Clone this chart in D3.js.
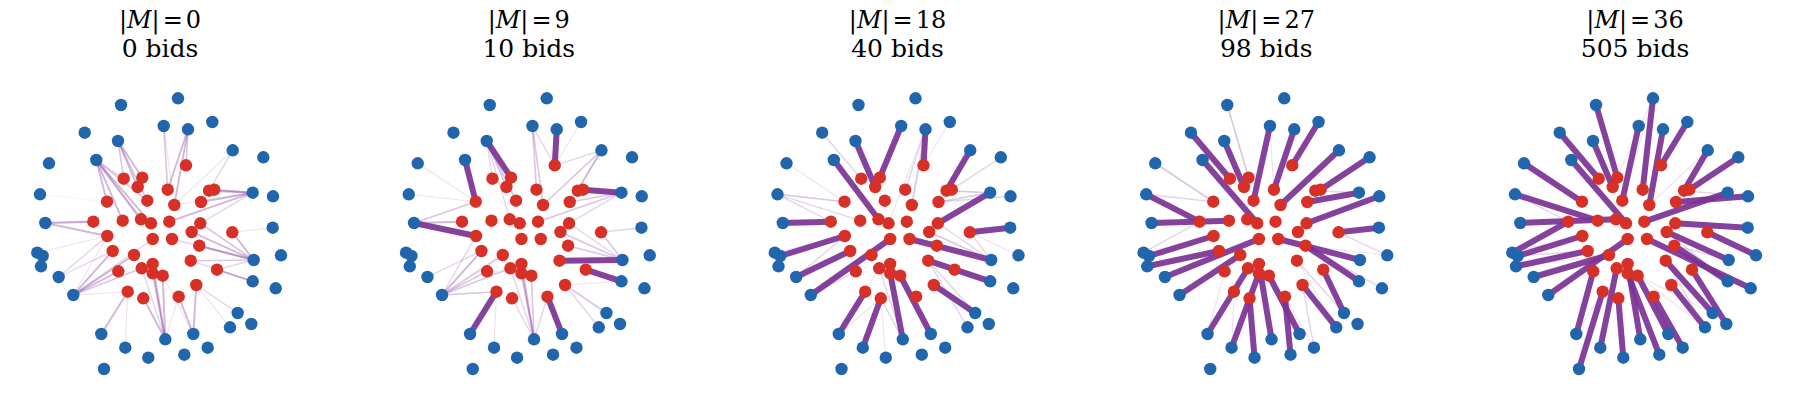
<!DOCTYPE html>
<html>
<head>
<meta charset="utf-8">
<script src="https://cdn.jsdelivr.net/npm/d3@7"></script>
<style>
body { margin: 0; background: #fff; }
</style>
</head>
<body>
<div id="chart"></div>
<script>
// one panel per auction stage
var matchSizes = [0, 9, 18, 27, 36];
var bidCounts = [0, 10, 40, 98, 505];

// layout positions (same in every panel), blue = outer side, red = inner side
var blueX = [121.0, 178.0, 84.7, 163.7, 188.0, 212.3, 118.0, 96.3, 49.0, 232.7, 263.3, 40.0,
    252.7, 273.0, 45.3, 272.7, 37.3, 42.7, 41.0, 253.7, 281.0, 58.7, 252.7, 73.3,
    275.7, 237.7, 230.0, 251.3, 101.3, 165.3, 193.3, 125.3, 148.3, 184.3, 207.7, 104.0];
var blueY = [45.0, 38.3, 72.7, 66.0, 69.3, 62.0, 81.0, 100.0, 103.3, 90.3, 97.3, 134.3,
    132.7, 136.3, 163.0, 167.7, 192.7, 196.0, 206.3, 200.0, 195.3, 217.0, 221.3, 235.0,
    228.3, 253.0, 267.3, 264.0, 274.0, 279.3, 274.0, 287.7, 297.7, 294.7, 287.7, 309.0];
var redX = [186.0, 123.7, 142.3, 137.7, 167.7, 209.0, 214.3, 107.0, 147.3, 174.3, 201.0, 93.3,
    122.7, 141.0, 151.0, 169.3, 200.3, 191.7, 232.3, 107.3, 152.7, 172.0, 199.3, 112.7,
    134.0, 190.7, 217.0, 118.3, 141.7, 152.7, 152.7, 162.7, 196.3, 127.7, 143.3, 178.7];
var redY = [105.3, 118.7, 117.7, 127.0, 129.7, 130.7, 129.7, 141.7, 140.7, 145.0, 142.0, 161.7,
    160.7, 159.3, 163.3, 161.7, 163.3, 172.0, 172.3, 176.0, 179.0, 179.0, 185.7, 191.0,
    195.0, 200.7, 209.7, 211.3, 208.3, 204.0, 213.3, 215.7, 225.0, 231.7, 238.3, 236.7];

// matched pairs [blue, red] (1-based) per panel
var matched = [
    [],
    [[7,3],[5,1],[8,8],[15,20],[13,7],[20,26],[23,27],[29,34],[31,36]],
    [[4,3],[7,4],[5,1],[8,14],[10,6],[13,17],[15,12],[16,19],[18,20],[22,24],[24,21],[20,22],
     [23,26],[26,33],[29,34],[32,35],[30,31],[31,32]],
    [[3,2],[7,4],[4,9],[8,15],[5,5],[6,1],[10,10],[11,7],[13,11],[14,17],[16,19],[12,12],
     [15,13],[18,20],[19,24],[22,21],[24,25],[20,22],[23,23],[26,27],[27,33],[29,29],[32,31],
     [33,35],[30,30],[34,36],[31,32]],
    [[1,3],[2,5],[3,2],[4,9],[5,10],[6,1],[7,4],[8,15],[9,8],[10,6],[11,7],[12,13],[13,16],
     [14,11],[15,14],[16,17],[17,12],[18,20],[19,24],[20,18],[21,19],[22,25],[23,23],[24,21],
     [25,22],[26,26],[27,33],[28,27],[29,28],[30,30],[31,32],[32,29],[33,35],[34,31],[35,36],
     [36,34]]
];

// weaker edges [blue, red, weight] per panel
var weakEdges = [
    [[8,8,.5],[8,13,.5],[8,14,.6],[8,15,.5],[8,9,.4],[8,2,.3],[7,2,.4],[7,3,.5],[7,4,.5],[7,9,.4],
     [4,5,.4],[4,10,.2],[5,5,.5],[5,10,.5],[5,1,.4],[10,6,.3],[10,10,.2],[13,6,.5],[13,7,.5],
     [13,11,.5],[13,16,.5],[13,17,.3],[13,10,.2],[15,12,.6],[15,20,.5],[16,19,.2],[17,20,.2],
     [20,17,.4],[20,18,.5],[20,19,.5],[20,23,.6],[20,26,.4],[20,27,.3],[20,22,.3],[23,27,.5],
     [23,26,.3],[22,24,.3],[22,20,.3],[24,24,.5],[24,25,.5],[24,28,.5],[24,29,.4],[24,21,.3],
     [24,20,.2],[24,34,.2],[29,34,.5],[30,29,.3],[30,30,.5],[30,31,.5],[30,32,.5],[30,35,.5],
     [30,36,.2],[31,33,.5],[31,36,.5],[31,32,.2],[26,33,.3],[27,33,.2],[32,34,.2],[12,8,.1]],
    [[7,4,.4],[7,9,.4],[7,2,.3],[7,14,.3],[4,5,.4],[4,10,.4],[4,1,.3],[6,1,.2],[10,6,.4],
     [10,10,.4],[10,1,.3],[10,11,.3],[13,11,.4],[13,16,.4],[13,17,.3],[13,6,.3],[9,8,.2],
     [12,8,.2],[15,12,.5],[15,8,.4],[20,18,.4],[20,19,.4],[20,23,.4],[20,17,.3],[16,19,.3],
     [24,24,.5],[24,25,.4],[24,28,.4],[24,29,.4],[24,34,.4],[24,20,.3],[22,24,.3],[30,29,.3],
     [30,30,.5],[30,31,.5],[30,32,.4],[30,36,.3],[30,35,.3],[32,34,.2],[26,33,.4],[27,33,.3],
     [23,33,.2]],
    [[3,2,.3],[12,8,.4],[12,12,.3],[12,13,.3],[9,8,.2],[5,5,.3],[5,10,.4],[5,15,.2],[6,1,.2],
     [11,7,.3],[13,6,.4],[13,11,.4],[14,11,.3],[20,17,.3],[20,18,.4],[20,19,.3],[21,19,.2],
     [24,25,.4],[24,28,.3],[22,20,.3],[17,20,.2],[29,35,.2],[29,29,.2],[30,35,.3],[30,29,.3],
     [27,26,.3],[26,26,.3],[33,35,.2]],
    [[1,3,.4],[9,8,.4],[12,8,.3],[17,12,.3],[17,20,.2],[21,19,.3],[21,23,.2],[25,23,.3],
     [13,6,.3],[11,6,.3],[35,33,.3],[35,36,.2],[26,26,.3],[27,26,.2],[29,28,.2],[32,34,.2],
     [4,5,.2]],
    [[2,4,.2],[2,9,.2],[12,12,.3],[13,11,.3],[14,6,.3],[10,10,.2],[17,20,.3],[18,24,.3],
     [19,25,.2],[20,23,.3],[23,18,.3],[26,32,.2],[27,32,.2],[27,26,.3],[29,34,.2],[30,31,.2]]
];

var svgWidth = 1794;
var svgHeight = 410;
var panelStep = 368.75;

var svg = d3.select("#chart")
    .append("svg")
    .attr("width", svgWidth)
    .attr("height", svgHeight);

var edgeColor = "#7b3294";

matchSizes.forEach(function(m, i) {

    var xScale = d3.scaleLinear()
        .domain([0, 300])
        .range([i * panelStep, i * panelStep + 300]);
    var yScale = d3.scaleLinear()
        .domain([0, 320])
        .range([60, 380]);

    var panel = svg.append("g").attr("class", "panel");

    // thin edges first
    panel.selectAll("line.weak")
        .data(weakEdges[i])
        .enter()
        .append("line")
        .attr("class", "weak")
        .attr("x1", d => xScale(blueX[d[0] - 1]))
        .attr("y1", d => yScale(blueY[d[0] - 1]))
        .attr("x2", d => xScale(redX[d[1] - 1]))
        .attr("y2", d => yScale(redY[d[1] - 1]))
        .attr("stroke", edgeColor)
        .attr("stroke-opacity", d => d[2] * 0.7)
        .attr("stroke-width", d => 0.6 + d[2] * 2.6);

    // matched edges
    panel.selectAll("line.match")
        .data(matched[i])
        .enter()
        .append("line")
        .attr("class", "match")
        .attr("x1", d => xScale(blueX[d[0] - 1]))
        .attr("y1", d => yScale(blueY[d[0] - 1]))
        .attr("x2", d => xScale(redX[d[1] - 1]))
        .attr("y2", d => yScale(redY[d[1] - 1]))
        .attr("stroke", edgeColor)
        .attr("stroke-opacity", 0.92)
        .attr("stroke-width", 6);

    panel.selectAll("circle.blue")
        .data(blueX)
        .enter()
        .append("circle")
        .attr("class", "blue")
        .attr("cx", d => xScale(d))
        .attr("cy", (d, j) => yScale(blueY[j]))
        .attr("r", 6.2)
        .attr("fill", "#2166ac");

    panel.selectAll("circle.red")
        .data(redX)
        .enter()
        .append("circle")
        .attr("class", "red")
        .attr("cx", d => xScale(d))
        .attr("cy", (d, j) => yScale(redY[j]))
        .attr("r", 6.2)
        .attr("fill", "#d73027");

    // two-line title
    var title = panel.append("text")
        .attr("x", xScale(160))
        .attr("y", 28)
        .attr("text-anchor", "middle")
        .attr("font-family", "DejaVu Serif")
        .attr("font-size", 24);
    title.append("tspan").text("|");
    title.append("tspan").attr("font-style", "italic").text("M");
    title.append("tspan").text("|");
    title.append("tspan").attr("dx", 3).text("=");
    title.append("tspan").attr("dx", 3).text(m);

    panel.append("text")
        .attr("x", xScale(160))
        .attr("y", 57)
        .attr("text-anchor", "middle")
        .attr("font-family", "DejaVu Serif")
        .attr("font-size", 25)
        .text(bidCounts[i] + " bids");
});
</script>
</body>
</html>
